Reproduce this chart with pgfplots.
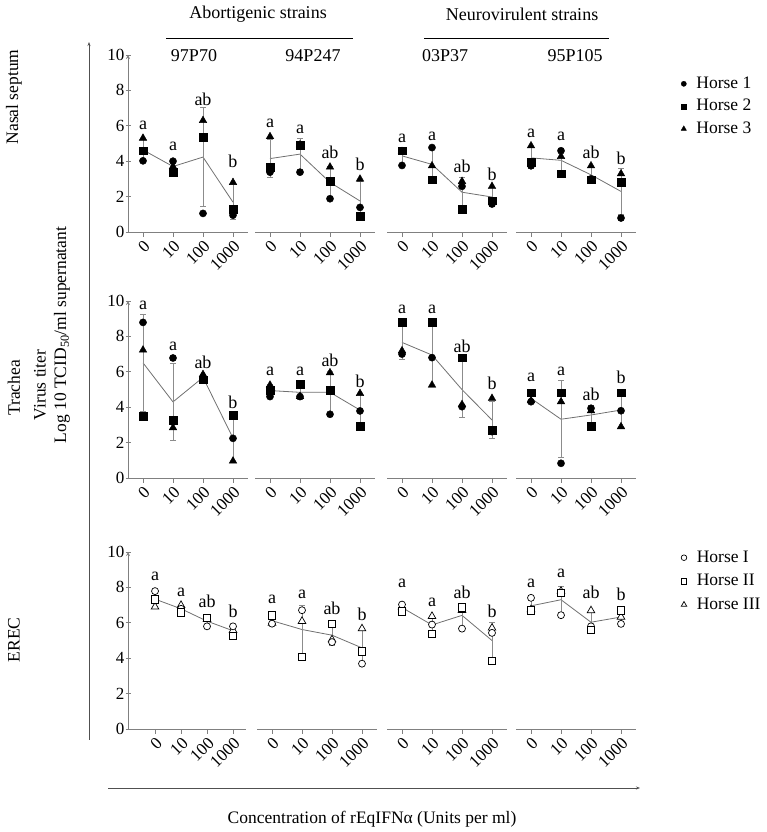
\documentclass[border=0pt]{standalone}
\usepackage{fontspec}
\setmainfont{Liberation Serif}
\usepackage{pgfplots}
\pgfplotsset{compat=1.18}
\usepackage{pgfplotstable}
\usetikzlibrary{arrows.meta}

\definecolor{axisgray}{HTML}{808080}
\definecolor{linegray}{HTML}{707070}
\definecolor{errgray}{HTML}{8c8c8c}
\definecolor{arrowgray}{HTML}{505050}
\newcommand{\tf}{\fontsize{17}{20}\selectfont}
\newcommand{\lf}{\fontsize{17.5}{21}\selectfont}
\newcommand{\af}{\fontsize{18}{21}\selectfont}
\newcommand{\hf}{\fontsize{18}{21}\selectfont}

% columns: x, a = Horse 1 (circle), b = Horse 2 (square), c = Horse 3 (triangle), m = mean, s = SD
\pgfplotstableread{
x a b c m s
0 4.02 4.59 5.30 4.637 0.641
1 4.00 3.40 3.70 3.700 0.300
2 1.05 5.35 6.30 4.233 2.797
3 0.95 1.30 2.80 1.683 0.983
}\tAa
\pgfplotstableread{
x a b c m s
0 3.38 3.67 5.39 4.147 1.086
1 3.38 4.89 4.93 4.400 0.884
2 1.88 2.86 3.67 2.803 0.897
3 1.39 0.88 2.99 1.753 1.101
}\tAb
\pgfplotstableread{
x a b c m s
0 3.76 4.59 4.55 4.300 0.468
1 4.77 2.95 3.74 3.820 0.913
2 2.58 1.30 2.86 2.247 0.832
3 1.58 1.77 2.58 1.977 0.531
}\tAc
\pgfplotstableread{
x a b c m s
0 3.74 3.95 4.87 4.187 0.601
1 4.59 3.29 4.27 4.050 0.677
2 3.00 2.95 3.74 3.230 0.442
3 0.79 2.80 3.29 2.293 1.325
}\tAd
\pgfplotstableread{
x a b c m s
0 8.79 3.50 7.23 6.507 2.718
1 6.78 3.28 2.84 4.300 2.159
2 5.65 5.55 5.85 5.683 0.153
3 2.24 3.56 0.96 2.253 1.300
}\tBa
\pgfplotstableread{
x a b c m s
0 4.60 4.97 5.25 4.940 0.326
1 4.60 5.31 4.61 4.840 0.407
2 3.60 4.97 5.95 4.840 1.180
3 3.79 2.94 4.78 3.837 0.921
}\tBb
\pgfplotstableread{
x a b c m s
0 7.00 8.79 7.19 7.660 0.983
1 6.80 8.79 5.25 6.947 1.775
2 4.03 6.80 4.15 4.993 1.566
3 2.62 2.71 4.50 3.277 1.060
}\tBc
\pgfplotstableread{
x a b c m s
0 4.31 4.82 4.37 4.500 0.279
1 0.83 4.82 4.31 3.320 2.171
2 3.94 2.94 3.80 3.560 0.541
3 3.80 4.82 2.90 3.840 0.961
}\tBd
\pgfplotstableread{
x a b c m s
0 7.79 7.32 6.90 7.337 0.445
1 6.79 6.60 6.99 6.793 0.195
2 5.80 6.28 6.20 6.093 0.257
3 5.80 5.27 5.58 5.550 0.266
}\tCa
\pgfplotstableread{
x a b c m s
0 5.95 6.41 5.99 6.117 0.255
1 6.71 4.06 6.09 5.620 1.386
2 4.91 5.94 5.05 5.300 0.559
3 3.69 4.39 5.67 4.583 1.004
}\tCb
\pgfplotstableread{
x a b c m s
0 7.03 6.65 6.90 6.860 0.193
1 5.90 5.37 6.37 5.880 0.500
2 5.67 6.88 6.71 6.420 0.655
3 5.43 3.86 5.71 5.000 0.997
}\tCc
\pgfplotstableread{
x a b c m s
0 7.41 6.71 6.75 6.957 0.393
1 6.43 7.69 7.79 7.303 0.758
2 5.80 5.61 6.69 6.033 0.577
3 5.94 6.71 6.33 6.327 0.385
}\tCd

\pgfplotsset{
  base/.style={scale only axis, anchor=south west, height=177pt,
    ymin=0, ymax=10, clip=false, enlargelimits=false,
    axis x line=bottom,
    axis line style={-, draw=axisgray, line width=0.8pt},
    tick style={draw=axisgray, line width=0.8pt},
    major tick length=5pt, tick align=outside,
    xtick={0,1,2,3}, xticklabels={0,10,100,1000},
    xticklabel style={rotate=45, anchor=north east, inner sep=1.5pt, font=\tf},
    /pgf/number format/assume math mode=true},
  first/.style={base, axis y line=left, ytick={0,2,4,6,8,10},
    yticklabel style={font=\tf, inner sep=1pt},
    xmin=-0.5, xmax=3.5, width=120pt},
  firstC/.style={first, xmin=-1.04, xmax=3.5, width=118pt},
  other/.style={base, axis y line=none, xmin=-0.5, xmax=3.5, width=120pt},
  hA/.style={only marks, mark=*, mark size=3.6pt, black, forget plot},
  hB/.style={only marks, mark=square*, mark size=3.9pt, black, forget plot},
  hC/.style={only marks, mark=triangle*, mark size=4.4pt, black, forget plot},
  oA/.style={only marks, mark=*, mark size=3.5pt, forget plot, mark options={draw=black, fill=white, line width=0.7pt}},
  oB/.style={only marks, mark=square*, mark size=3.7pt, forget plot, mark options={draw=black, fill=white, line width=0.7pt}},
  oC/.style={only marks, mark=triangle*, mark size=4.4pt, forget plot, mark options={draw=black, fill=white, line width=0.7pt}},
  meanplot/.style={linegray, line width=0.8pt, mark=none, forget plot,
    error bars/.cd, y dir=both, y explicit,
    error bar style={errgray, line width=0.8pt},
    error mark options={rotate=90, mark size=3pt, errgray, line width=0.8pt}},
  leg/.style={legend style={draw=none, fill=none, anchor=west,
    inner sep=0pt, font=\lf, row sep=3.5pt,
    nodes={inner sep=2pt, text height=12pt, text depth=3pt},
    /tikz/every odd column/.append style={column sep=8pt}},
    legend cell align=left},
}

\newcommand{\filled}[1]{%
  \addplot[meanplot] table[x=x, y=m, y error=s] {#1};
  \addplot[hC] table[x=x, y=c] {#1};
  \addplot[hA] table[x=x, y=a] {#1};
  \addplot[hB] table[x=x, y=b] {#1};
}
\newcommand{\open}[1]{%
  \addplot[meanplot] table[x=x, y=m, y error=s] {#1};
  \addplot[oC] table[x=x, y=c] {#1};
  \addplot[oA] table[x=x, y=a] {#1};
  \addplot[oB] table[x=x, y=b] {#1};
}
\newcommand{\letters}[4]{%
  \node[font=\af, inner sep=0pt] at (axis cs:0,#1) {a};
  \node[font=\af, inner sep=0pt] at (axis cs:1,#2) {a};
  \node[font=\af, inner sep=0pt] at (axis cs:2,#3) {ab};
  \node[font=\af, inner sep=0pt] at (axis cs:3,#4) {b};
}

\begin{document}
\begin{tikzpicture}
\useasboundingbox (0pt,0pt) rectangle (767pt,832pt);

% ---------------- Row 1: Nasal septum ----------------
\begin{axis}[first, at={(128pt,600pt)}]
  \filled{\tAa}
  \letters{6.05}{4.83}{7.5}{3.98}
\end{axis}
\begin{axis}[other, at={(255pt,600pt)}]
  \filled{\tAb}
  \letters{6.15}{5.77}{4.49}{3.8}
\end{axis}
\begin{axis}[other, at={(387pt,600pt)}]
  \filled{\tAc}
  \letters{5.3}{5.4}{3.7}{3.23}
\end{axis}
\begin{axis}[other, at={(516pt,600pt)}, leg,
  legend style={at={(1.375,0.71)}}]
  \filled{\tAd}
  \letters{5.58}{5.4}{4.49}{4.17}
  \addlegendimage{legend image code/.code={\draw[black, fill=black] plot[mark=*, mark size=2.6pt] coordinates {(0pt,0pt)};}}
  \addlegendentry{Horse 1}
  \addlegendimage{legend image code/.code={\draw[black, fill=black] plot[mark=square*, mark size=2.6pt] coordinates {(0pt,0pt)};}}
  \addlegendentry{Horse 2}
  \addlegendimage{legend image code/.code={\draw[black, fill=black] plot[mark=triangle*, mark size=3pt] coordinates {(0pt,0pt)};}}
  \addlegendentry{Horse 3}
\end{axis}

% ---------------- Row 2: Trachea ----------------
\begin{axis}[first, at={(128pt,354pt)}]
  \filled{\tBa}
  \letters{9.77}{7.42}{6.52}{4.26}
\end{axis}
\begin{axis}[other, at={(255pt,354pt)}]
  \filled{\tBb}
  \letters{6.0}{6.0}{6.63}{5.48}
\end{axis}
\begin{axis}[other, at={(387pt,354pt)}]
  \filled{\tBc}
  \letters{9.55}{9.55}{7.46}{5.35}
\end{axis}
\begin{axis}[other, at={(516pt,354pt)}]
  \filled{\tBd}
  \letters{5.69}{6.0}{4.73}{5.69}
\end{axis}

% ---------------- Row 3: EREC ----------------
\begin{axis}[firstC, at={(128pt,103pt)}]
  \open{\tCa}
  \letters{8.64}{7.73}{7.22}{6.62}
\end{axis}
\begin{axis}[other, at={(257pt,103pt)}]
  \open{\tCb}
  \letters{7.32}{7.6}{6.79}{6.5}
\end{axis}
\begin{axis}[other, at={(387pt,103pt)}]
  \open{\tCc}
  \letters{8.22}{7.13}{7.73}{6.65}
\end{axis}
\begin{axis}[other, at={(516pt,103pt)}, leg,
  legend style={at={(1.375,0.835)}, row sep=4.5pt}]
  \open{\tCd}
  \letters{8.22}{8.79}{7.73}{7.6}
  \addlegendimage{legend image code/.code={\draw[black, fill=white, line width=0.7pt] plot[mark=*, mark size=2.8pt] coordinates {(0pt,0pt)};}}
  \addlegendentry{Horse I}
  \addlegendimage{legend image code/.code={\draw[black, fill=white, line width=0.7pt] plot[mark=square*, mark size=2.8pt] coordinates {(0pt,0pt)};}}
  \addlegendentry{Horse II}
  \addlegendimage{legend image code/.code={\draw[black, fill=white, line width=0.7pt] plot[mark=triangle*, mark size=3.2pt] coordinates {(0pt,0pt)};}}
  \addlegendentry{Horse III}
\end{axis}

% ---------------- Titles and labels ----------------
\node[font=\hf] at (258pt,818pt) {Abortigenic strains};
\draw[black, line width=0.8pt] (166pt,794pt) -- (353pt,794pt);
\node[font=\hf] at (522pt,818pt) {Neurovirulent strains};
\draw[black, line width=0.8pt] (424pt,794pt) -- (609pt,794pt);

\node[font=\hf] at (194pt,776pt) {97P70};
\node[font=\hf] at (313pt,776pt) {94P247};
\node[font=\hf] at (445pt,776pt) {03P37};
\node[font=\hf] at (575pt,776pt) {95P105};

\node[font=\lf, rotate=90] at (14pt,735pt) {Nasal septum};
\node[font=\lf, rotate=90] at (14pt,444pt) {Trachea};
\node[font=\lf, rotate=90] at (14pt,192pt) {EREC};
\node[font=\lf, rotate=90] at (40pt,447pt) {Virus titer};
\node[font=\lf, rotate=90] at (62pt,497pt) {Log 10 TCID\textsubscript{50}/ml supernatant};

\draw[arrowgray, line width=0.8pt, -{Stealth[length=4pt,width=3pt]}] (89pt,92pt) -- (89pt,790pt);
\draw[arrowgray, line width=0.8pt, -{Stealth[length=4pt,width=3pt]}] (108pt,44pt) -- (640pt,44pt);
\node[font=\lf] at (372pt,13pt) {Concentration of rEqIFNα (Units per ml)};
\end{tikzpicture}
\end{document}
